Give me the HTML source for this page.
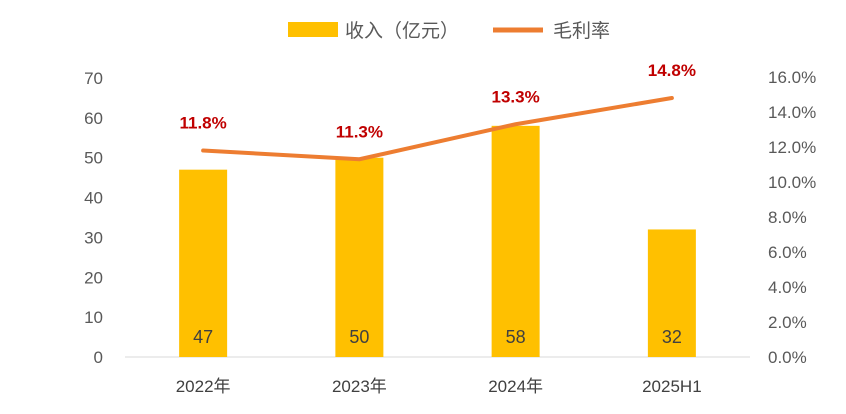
<!DOCTYPE html>
<html><head><meta charset="utf-8"><style>
body{margin:0;background:#fff;}
svg text{font-family:"Liberation Sans","Noto Sans CJK SC",sans-serif;}
</style></head><body>
<svg id="c" width="846" height="409" xmlns="http://www.w3.org/2000/svg">
<g>
<rect x="288" y="22" width="50" height="15" fill="#FFC000"/>
<text x="345" y="37" font-size="19" fill="#595959">收入（亿元）</text>
<line x1="493" y1="30" x2="543" y2="30" stroke="#ED7D31" stroke-width="5"/>
<text x="553" y="37" font-size="19" fill="#595959">毛利率</text>
</g>
<g id="axes"></g>
<g id="bars"></g>
<g id="line"></g>
</svg>
<script>
const categories=["2022年","2023年","2024年","2025H1"];
const revenue=[47,50,58,32];
const margin=[11.8,11.3,13.3,14.8];
const leftTicks=[0,10,20,30,40,50,60,70];
const rightTicks=[0,2,4,6,8,10,12,14,16];
const NS="http://www.w3.org/2000/svg";
const x0=125,x1=750,yBase=357,yTop=78;
const yL=v=>yBase-(v/70)*(yBase-yTop);
const yR=v=>yBase-(v/16)*(yBase-77);
const band=(x1-x0)/categories.length;
const xC=i=>x0+band*(i+0.5);
function mk(tag,attrs,parent,text){const e=document.createElementNS(NS,tag);for(const k in attrs)e.setAttribute(k,attrs[k]);if(text!==undefined)e.textContent=text;document.getElementById(parent).appendChild(e);return e;}
let e=mk("line",{x1:x0,x2:x1,y1:yBase,y2:yBase,stroke:"#D9D9D9","stroke-width":1},"axes");


leftTicks.forEach(v=>{const t=mk("text",{x:103,y:yL(v)+6,"font-size":17,fill:"#595959","text-anchor":"end"},"axes",String(v));

});
rightTicks.forEach(v=>{const t=mk("text",{x:768,y:yR(v)+6,"font-size":17,fill:"#595959"},"axes",v.toFixed(1)+"%");

});
categories.forEach((c,i)=>{const t=mk("text",{x:xC(i),y:392,"font-size":17,fill:"#404040","text-anchor":"middle"},"axes",c);

});
revenue.forEach((v,i)=>{const r=mk("rect",{x:xC(i)-24,y:yL(v),width:48,height:yBase-yL(v),fill:"#FFC000"},"bars");


const t=mk("text",{x:xC(i),y:343,"font-size":18,fill:"#404040","text-anchor":"middle"},"bars",String(v));

});
const pts=margin.map((v,i)=>xC(i)+","+yR(v)).join(" ");
const pl=mk("polyline",{points:pts,fill:"none",stroke:"#ED7D31","stroke-width":4,"stroke-linejoin":"round","stroke-linecap":"round"},"line");


margin.forEach((v,i)=>{const t=mk("text",{x:xC(i),y:yR(v)-22,"font-size":17,"font-weight":"bold",fill:"#C00000","text-anchor":"middle"},"line",v.toFixed(1)+"%");

});
</script>
</body></html>
